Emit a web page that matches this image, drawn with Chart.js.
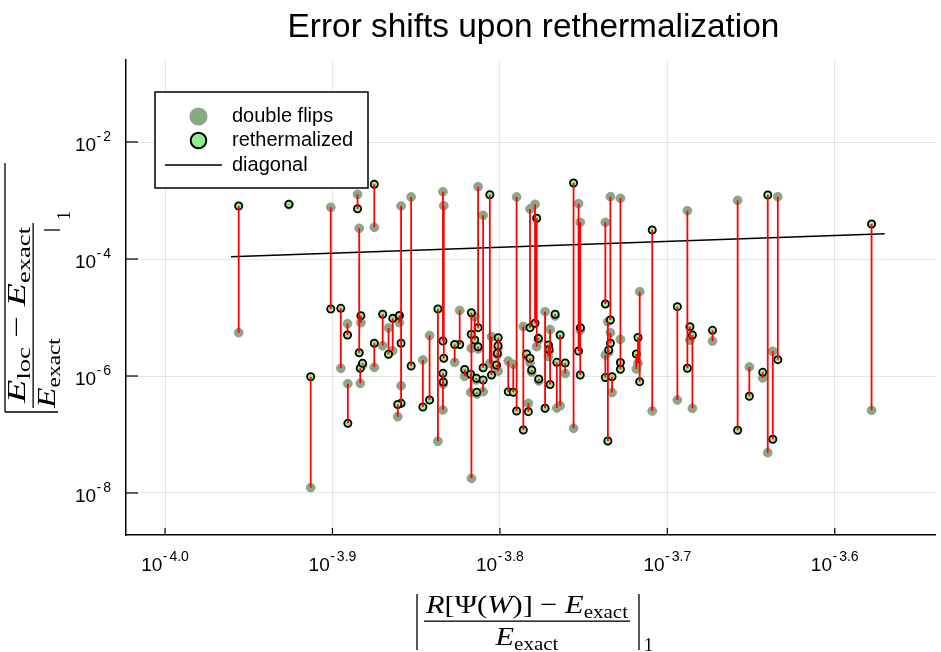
<!DOCTYPE html>
<html>
<head>
<meta charset="utf-8">
<title>Error shifts upon rethermalization</title>
<script src="https://cdn.jsdelivr.net/npm/chart.js@4.4.1/dist/chart.umd.min.js"></script>
<style>
html,body{margin:0;padding:0;background:#ffffff;}
canvas{display:block;}
</style>
</head>
<body>
<canvas id="chart" width="941" height="652"></canvas>
<script>
// Values, as base-10 exponents (the chart is log-log).
// x: |(R[Psi(W)] - E_exact)/E_exact|_1
const xLog10 = [
 -3.956,-3.926,-3.901,-3.885,-3.884,-3.875,-3.859,-3.853,-3.834,-3.8335,
 -3.813,-3.810,-3.806,-3.790,-3.782,-3.779,-3.778,-3.756,-3.753,-3.752,
 -3.737,-3.734,-3.728,-3.709,-3.7165,-3.688,-3.658,-3.640,-3.634,-3.578,
 -3.913,-3.895,-3.891,-3.8908,-3.883,-3.8834,-3.882,-3.875,-3.870,-3.8665,
 -3.864,-3.860,-3.859,-3.861,-3.846,-3.842,-3.837,-3.834,-3.8338,-3.824,
 -3.827,-3.821,-3.817,-3.815,-3.8171,-3.813,-3.8174,-3.814,-3.8138,-3.810,
 -3.805,-3.801,-3.8011,-3.8015,-3.802,-3.795,-3.792,-3.786,-3.784,-3.783,
 -3.782,-3.781,-3.777,-3.7768,-3.773,-3.770,-3.771,-3.7706,-3.767,-3.766,
 -3.764,-3.761,-3.7519,-3.737,-3.7355,-3.733,-3.734,-3.735,-3.728,-3.7175,
 -3.7185,-3.694,-3.6865,-3.685,-3.673,-3.651,-3.643,-3.637
];
// y of "double flips" points
const doubleFlipsLog10 = [
 -5.260,-3.070,-3.116,-2.894,-3.475,-3.458,-3.094,-2.940,-2.850,-3.089,
 -2.764,-3.253,-5.783,-2.940,-3.145,-3.065,-5.499,-6.894,-3.055,-3.373,
 -3.373,-2.935,-2.962,-6.598,-4.559,-3.174,-2.997,-7.311,-2.935,-6.586,
 -7.909,-5.868,-5.106,-6.132,-5.089,-6.125,-5.812,-5.851,-5.482,-5.179,
 -5.569,-5.089,-6.166,-6.696,-5.726,-5.308,-7.116,-6.581,-6.137,-4.880,
 -5.766,-6.005,-7.749,-4.986,-5.526,-5.538,-6.279,-6.068,-6.308,-6.268,
 -5.328,-5.915,-5.521,-5.641,-5.846,-5.744,-5.800,-5.154,-5.658,-6.467,
 -5.773,-5.932,-5.385,-6.085,-4.901,-5.205,-5.667,-5.573,-4.974,-6.547,
 -6.508,-5.957,-5.214,-5.641,-5.072,-6.282,-5.260,-5.590,-5.373,-5.783,
 -5.880,-6.410,-5.385,-6.552,-5.402,-5.846,-6.034,-5.578
];
// y of "rethermalized" points
const rethermalizedLog10 = [
 -3.094,-3.065,-4.855,-3.140,-5.602,-2.723,-6.467,-5.829,-5.402,-5.697,
 -5.174,-5.858,-2.901,-6.598,-5.174,-5.099,-3.304,-2.701,-5.573,-5.983,
 -4.769,-5.043,-5.885,-3.504,-6.097,-5.868,-6.928,-2.906,-5.721,-3.402,
 -6.012,-4.843,-5.299,-6.809,-4.969,-5.868,-5.783,-5.441,-4.945,-5.629,
 -5.014,-4.966,-5.441,-6.487,-6.530,-6.410,-4.855,-5.954,-6.103,-5.462,
 -5.462,-5.889,-4.918,-5.385,-5.287,-5.499,-5.971,-6.039,-6.279,-6.068,
 -5.983,-5.345,-5.482,-5.612,-5.812,-6.268,-6.279,-6.923,-5.624,-6.610,
 -5.697,-5.897,-5.356,-6.051,-6.552,-6.145,-5.470,-5.547,-4.945,-5.766,
 -5.299,-5.778,-5.174,-6.026,-7.111,-6.012,-5.441,-5.556,-5.769,-5.342,
 -5.624,-4.815,-5.157,-5.299,-5.219,-6.347,-5.937,-7.082
];
const diagonalLog10 = [-3.9606, -3.5702];
const xTickExps = [-4.0, -3.9, -3.8, -3.7, -3.6];
const xTickLabels = ['4.0', '3.9', '3.8', '3.7', '3.6'];
const yTickExps = [-8, -6, -4, -2];
const yTickLabels = ['8', '6', '4', '2'];
const xRangeLog10 = [-4.0233, -3.540];
const yRangeLog10 = [-8.718, -0.598];

const titleText = 'Error shifts upon rethermalization';
const legendLabels = ['double flips', 'rethermalized', 'diagonal'];

const GRAY_FILL = 'rgb(136,170,130)';
const GRAY_EDGE = 'rgba(150,150,150,0.9)';
const GREEN_FILL = 'rgb(144,238,144)';

const pow10 = v => Math.pow(10, v);

const grayPts = xLog10.map((e, i) => ({x: pow10(e), y: pow10(doubleFlipsLog10[i])}));
const greenPts = xLog10.map((e, i) => ({x: pow10(e), y: pow10(rethermalizedLog10[i])}));
const segPts = [];
xLog10.forEach((e, i) => {
  segPts.push({x: pow10(e), y: pow10(doubleFlipsLog10[i])});
  segPts.push({x: pow10(e), y: pow10(rethermalizedLog10[i])});
  segPts.push({x: pow10(e), y: null});
});
const diagPts = diagonalLog10.map(e => ({x: pow10(e), y: pow10(e)}));

function measureSegs(ctx, segs) {
  let w = 0;
  segs.forEach(s => { ctx.font = s.f; s.w = ctx.measureText(s.t).width; w += s.w; });
  return w;
}
// draw text pieces horizontally stretched by sx, starting at x (or centred on x)
function drawSegs(ctx, segs, x, y, align, sx) {
  const w = measureSegs(ctx, segs) * sx;
  const x0 = align === 'center' ? x - w / 2 : x;
  ctx.save();
  ctx.translate(x0, y);
  ctx.scale(sx, 1);
  ctx.textAlign = 'left';
  ctx.textBaseline = 'alphabetic';
  let cx = 0;
  segs.forEach(s => { ctx.font = s.f; ctx.fillText(s.t, cx, s.dy || 0); cx += s.w; });
  ctx.restore();
  return w;
}

const BASE_FONT = '19px "Liberation Sans", Arial, sans-serif';
const SUP_FONT = '14px "Liberation Sans", Arial, sans-serif';

function supLabel(ctx, sup, x, y, align) {
  ctx.font = BASE_FONT; const wb = ctx.measureText('10').width;
  ctx.font = SUP_FONT; const wm = ctx.measureText('-').width; const ws = ctx.measureText(sup).width;
  const gap = 2.5;
  const w = wb + wm + gap + ws;
  const x0 = align === 'right' ? x - w : x - w / 2;
  ctx.textAlign = 'left'; ctx.textBaseline = 'alphabetic';
  ctx.font = BASE_FONT; ctx.fillText('10', x0, y);
  ctx.font = SUP_FONT; ctx.fillText('-', x0 + wb + 0.5, y - 10); ctx.fillText(sup, x0 + wb + wm + gap, y - 10);
}

const overlay = {
  id: 'overlay',
  afterDraw(chart) {
    const ctx = chart.ctx, xs = chart.scales.x, ys = chart.scales.y, ca = chart.chartArea;
    ctx.save();
    ctx.fillStyle = '#000'; ctx.strokeStyle = '#000';

    // inward tick marks
    ctx.lineWidth = 1.2;
    xTickExps.forEach(e => {
      const px = xs.getPixelForValue(pow10(e));
      ctx.beginPath(); ctx.moveTo(px, ca.bottom); ctx.lineTo(px, ca.bottom - 7); ctx.stroke();
    });
    yTickExps.forEach(e => {
      const py = ys.getPixelForValue(pow10(e));
      ctx.beginPath(); ctx.moveTo(ca.left, py); ctx.lineTo(ca.left + 12, py); ctx.stroke();
    });

    // tick labels
    xTickExps.forEach((e, i) => supLabel(ctx, xTickLabels[i], xs.getPixelForValue(pow10(e)), ca.bottom + 36, 'center'));
    yTickExps.forEach((e, i) => supLabel(ctx, yTickLabels[i], ca.left - 15, ys.getPixelForValue(pow10(e)) + 9, 'right'));

    // title
    ctx.font = '33.4px "Liberation Sans", Arial, sans-serif';
    ctx.textAlign = 'center'; ctx.textBaseline = 'middle';
    ctx.fillText(titleText, 533.5, 28);

    // legend
    const lx = 155, ly = 92, lw = 213, lh = 96;
    ctx.fillStyle = '#fff'; ctx.fillRect(lx, ly, lw, lh);
    ctx.lineWidth = 1.5; ctx.strokeStyle = '#000'; ctx.strokeRect(lx, ly, lw, lh);
    const rows = [116.5, 140.5, 165];
    ctx.beginPath(); ctx.arc(198.5, rows[0], 8.5, 0, Math.PI * 2);
    ctx.fillStyle = GRAY_FILL; ctx.fill(); ctx.lineWidth = 1.2; ctx.strokeStyle = GRAY_EDGE; ctx.stroke();
    ctx.beginPath(); ctx.arc(198.5, rows[1], 7.8, 0, Math.PI * 2);
    ctx.fillStyle = GREEN_FILL; ctx.fill(); ctx.lineWidth = 2; ctx.strokeStyle = '#000'; ctx.stroke();
    ctx.beginPath(); ctx.moveTo(165, rows[2]); ctx.lineTo(222, rows[2]); ctx.lineWidth = 1.5; ctx.stroke();
    ctx.fillStyle = '#000';
    ctx.font = '20px "Liberation Sans", Arial, sans-serif';
    ctx.textAlign = 'left'; ctx.textBaseline = 'middle';
    legendLabels.forEach((t, i) => ctx.fillText(t, 232, rows[i]));

    // x-axis title (math)
    const MI = 'italic 26px "Liberation Serif", "DejaVu Serif", serif';
    const MU = '26px "Liberation Serif", "DejaVu Serif", serif';
    const MS = '18px "Liberation Serif", "DejaVu Serif", serif';
    const numX = [
      {t: 'R', f: MI}, {t: '[Ψ(', f: MU}, {t: 'W', f: MI}, {t: ')] − ', f: MU},
      {t: 'E', f: MI}, {t: 'exact', f: MS, dy: 5}
    ];
    const sxX = 202 / measureSegs(ctx, numX);
    const cx = 527;
    drawSegs(ctx, numX, cx, 613, 'center', sxX);
    ctx.fillRect(cx - 103, 620.5, 206, 1.3);
    drawSegs(ctx, [{t: 'E', f: MI}, {t: 'exact', f: MS, dy: 5}], cx, 645, 'center', sxX);
    ctx.lineWidth = 1.3;
    ctx.beginPath(); ctx.moveTo(417, 594); ctx.lineTo(417, 650); ctx.stroke();
    ctx.beginPath(); ctx.moveTo(639, 594); ctx.lineTo(639, 650); ctx.stroke();
    ctx.font = MS; ctx.textAlign = 'left'; ctx.textBaseline = 'alphabetic';
    ctx.fillText('1', 644, 651);

    // y-axis title (math, rotated)
    const YI = 'italic 26px "Liberation Serif", "DejaVu Serif", serif';
    const YU = '26px "Liberation Serif", "DejaVu Serif", serif';
    const YS = '18px "Liberation Serif", "DejaVu Serif", serif';
    const numY = [
      {t: 'E', f: YI}, {t: 'loc', f: YS, dy: 5}, {t: ' − ', f: YU},
      {t: 'E', f: YI}, {t: 'exact', f: YS, dy: 5}
    ];
    const sxY = 176 / measureSegs(ctx, numY);
    ctx.save();
    ctx.translate(0, 412);
    ctx.rotate(-Math.PI / 2);
    drawSegs(ctx, numY, 9, 25, 'left', sxY);
    ctx.fillRect(4, 32.5, 185, 1.3);
    drawSegs(ctx, [{t: 'E', f: YI}, {t: 'exact', f: YS, dy: 5}], 4, 55, 'left', sxY * 0.88);
    ctx.lineWidth = 1.3;
    ctx.beginPath(); ctx.moveTo(0, 5); ctx.lineTo(0, 58); ctx.stroke();
    ctx.beginPath(); ctx.moveTo(0, 5); ctx.lineTo(249, 5); ctx.stroke();
    ctx.beginPath(); ctx.moveTo(182, 44); ctx.lineTo(182, 60); ctx.stroke();
    ctx.font = YS; ctx.textAlign = 'left'; ctx.textBaseline = 'alphabetic';
    ctx.fillText('1', 192, 70);
    ctx.restore();

    ctx.restore();
  }
};

new Chart(document.getElementById('chart'), {
  type: 'scatter',
  data: {
    datasets: [
      {label: 'shift', data: segPts, showLine: true, borderColor: '#ff0000', borderWidth: 1.8,
       pointRadius: 0, pointHoverRadius: 0, spanGaps: false, order: 0},
      {label: 'rethermalized', data: greenPts, pointRadius: 3.6, pointBorderWidth: 1.8,
       pointBackgroundColor: GREEN_FILL, pointBorderColor: '#000', showLine: false, order: 1},
      {label: 'double flips', data: grayPts, pointRadius: 4.4, pointBorderWidth: 1,
       pointBackgroundColor: GRAY_FILL, pointBorderColor: GRAY_EDGE, showLine: false, order: 2},
      {label: 'diagonal', data: diagPts, showLine: true, borderColor: '#000', borderWidth: 1.5,
       pointRadius: 0, order: 3}
    ]
  },
  options: {
    responsive: false,
    animation: false,
    devicePixelRatio: 1,
    layout: {padding: {left: 126, right: 0, top: 60, bottom: 117}},
    plugins: {legend: {display: false}, tooltip: {enabled: false}, title: {display: false}},
    scales: {
      x: {
        type: 'logarithmic', min: pow10(xRangeLog10[0]), max: pow10(xRangeLog10[1]),
        grid: {color: 'rgba(0,0,0,0.1)', lineWidth: 1, drawTicks: false},
        border: {display: true, color: '#000', width: 1.5},
        ticks: {display: false},
        afterBuildTicks: s => { s.ticks = xTickExps.map(e => ({value: pow10(e)})); }
      },
      y: {
        type: 'logarithmic', min: pow10(yRangeLog10[0]), max: pow10(yRangeLog10[1]),
        grid: {color: 'rgba(0,0,0,0.1)', lineWidth: 1, drawTicks: false},
        border: {display: true, color: '#000', width: 1.5},
        ticks: {display: false},
        afterBuildTicks: s => { s.ticks = yTickExps.map(e => ({value: pow10(e)})); }
      }
    }
  },
  plugins: [overlay]
});
</script>
</body>
</html>
